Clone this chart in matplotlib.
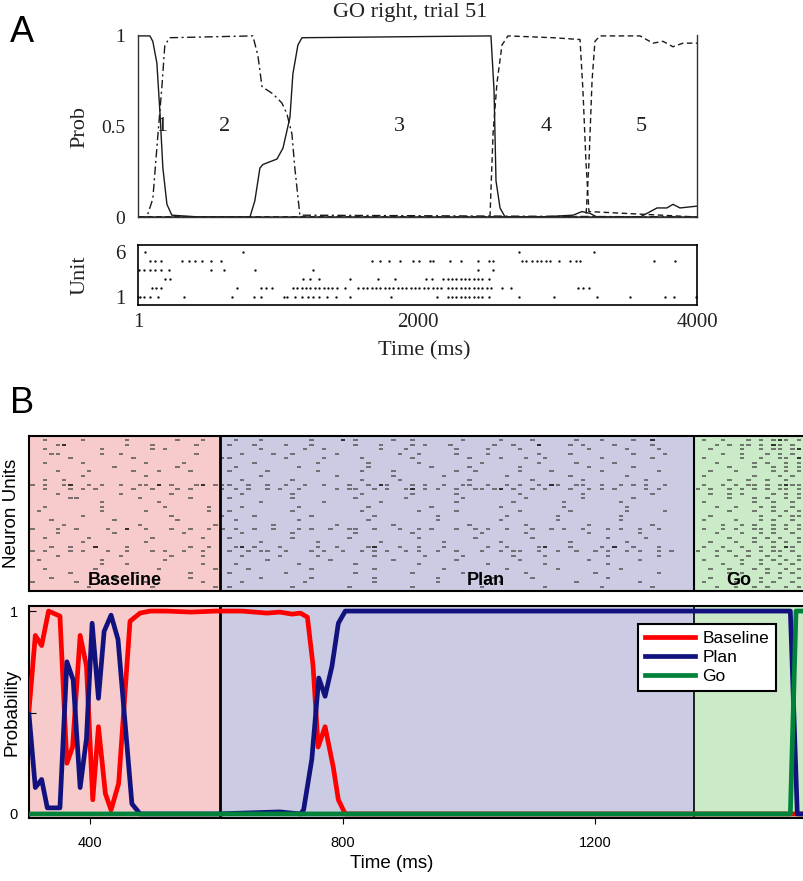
import matplotlib
matplotlib.use('Agg')
import matplotlib.pyplot as plt

W, H = 804, 881
SERIF = ['Liberation Serif', 'DejaVu Serif']
SANS = ['Liberation Sans', 'DejaVu Sans']

# ---------------- Panel A data ----------------
a_title = "GO right, trial 51"
a_state_labels = ['1', '2', '3', '4', '5']
a_state_label_t = [170, 620, 1870, 2920, 3600]

s1_t = [1, 86, 107, 136, 157, 179, 208, 243, 444, 4000]
s1_p = [1, 1, 0.97, 0.85, 0.59, 0.27, 0.07, 0.01, 0, 0]

s2_t = [1, 64, 107, 143, 172, 193, 229, 823, 859, 888, 966, 1030, 1066, 1102, 1123, 1159, 4000]
s2_p = [0, 0, 0.1, 0.45, 0.72, 0.95, 0.99, 1, 0.89, 0.72, 0.68, 0.63, 0.57, 0.46, 0.27, 0.01, 0]

s3_t = [1, 802, 837, 873, 895, 995, 1038, 1088, 1109, 1145, 1174, 2526, 2548, 2562, 2591, 2627,
        2877, 3113, 3177, 3234, 3285, 3592, 3642, 3714, 3785, 3828, 3878, 4000]
s3_p = [0, 0, 0.09, 0.27, 0.29, 0.32, 0.38, 0.55, 0.79, 0.95, 0.99, 1, 0.7, 0.2, 0.05, 0,
        0, 0.01, 0.03, 0.02, 0, 0, 0.02, 0.05, 0.05, 0.07, 0.05, 0.06]

s4_t = [1, 2519, 2541, 2569, 2605, 2648, 2970, 3163, 3184, 3206, 3227, 4000]
s4_p = [0, 0, 0.46, 0.74, 0.95, 1.0, 0.99, 0.98, 0.7, 0.3, 0.03, 0]

s5_t = [1, 3206, 3227, 3249, 3270, 3306, 3592, 3685, 3757, 3828, 3900, 4000]
s5_p = [0, 0, 0.3, 0.75, 0.97, 1.0, 1.0, 0.96, 0.97, 0.94, 0.96, 0.96]

unit6 = [53, 753, 2730, 3265]
unit5 = [84, 121, 162, 318, 364, 411, 458, 520, 598, 1672, 1734, 1796, 1874, 1967, 2014, 2092, 2108,
         2232, 2310, 2434, 2512, 2543, 2746, 2777, 2823, 2855, 2886, 2917, 2948, 3010, 3088, 3135,
         3166, 3695, 3845]
unit4 = [6, 44, 84, 121, 168, 224, 520, 613, 837, 1251, 2434, 2543]
unit3 = [193, 233, 1183, 1230, 1298, 1516, 1718, 1843, 2061, 2101, 2185, 2216, 2247, 2279, 2310,
         2341, 2372, 2403, 2434, 2465, 2512]
unit2 = [100, 131, 162, 707, 878, 918, 962, 1111, 1142, 1173, 1204, 1235, 1267, 1298, 1329, 1360,
         1391, 1423, 1485, 1578, 1609, 1640, 1672, 1703, 1734, 1765, 1796, 1827, 1858, 1889, 1921,
         1952, 1983, 2014, 2045, 2076, 2108, 2139, 2170, 2216, 2247, 2279, 2310, 2341, 2372, 2403,
         2434, 2465, 2497, 2528, 2606, 2668, 3150, 3182, 3228]
unit1 = [1, 16, 44, 84, 146, 333, 676, 831, 878, 1049, 1065, 1127, 1174, 1220, 1251, 1298, 1354,
         1416, 1516, 1812, 2139, 2216, 2247, 2279, 2310, 2341, 2372, 2403, 2434, 2465, 2512, 2724,
         2979, 3284, 3524, 3773, 3835, 3991]
a_units = [unit1, unit2, unit3, unit4, unit5, unit6]

# ---------------- Panel B data ----------------
phase_names = ['Baseline', 'Plan', 'Go']
phase_bounds = [303, 605, 1357, 1545]
phase_colors = ['#F7CACB', '#CBCBE3', '#CBEAC7']
phase_label_t = [454, 1027, 1428]

base_t = [303, 313, 323, 334, 352, 363, 372, 384, 394, 404, 413, 424, 433, 445, 463, 479, 495, 520,
          560, 600, 640, 680, 700, 720, 733, 744, 753, 761, 772, 785, 793, 804, 1545]
base_p = [0.51, 0.88, 0.83, 1.0, 0.975, 0.25, 0.33, 0.88, 0.73, 0.07, 0.43, 0.1, 0.02, 0.15, 0.95,
          0.99, 1.0, 1.0, 0.995, 1.0, 1.0, 0.99, 0.995, 0.985, 0.99, 0.97, 0.73, 0.33, 0.43, 0.23,
          0.07, 0, 0]
plan_t = [303, 313, 323, 332, 352, 363, 373, 384, 394, 403, 413, 422, 433, 444, 466, 479, 520, 600,
          700, 733, 738, 751, 762, 772, 783, 793, 804, 1509, 1520, 1545]
plan_p = [0.49, 0.13, 0.17, 0.03, 0.03, 0.75, 0.66, 0.13, 0.37, 0.94, 0.57, 0.9, 0.98, 0.86, 0.05,
          0.0, 0.0, 0.0, 0.01, 0.0, 0.02, 0.27, 0.67, 0.58, 0.73, 0.94, 1.0, 1.0, 0.0, 0.0]
go_t = [303, 1509, 1518, 1545]
go_p = [0, 0, 1, 1]
line_colors = ['#FF0000', '#12127F', '#00823A']

# raster rows: segments for Baseline | Plan | Go, one char = 10 ms, '-' grey spike, '#' dark spike
raster_rows = [
    "..-.....-......-.......-...-...|..-...-.......-....#.-.....-..-.......-.....-....-......-...-....-..#....|.-..-...-.-.-#-.--",
    "....-#.........-...-......-....|.-...-....-...-......-...-....-.-...-......-..-...#....-.-....-.....-....|...-.-.--.-.#-.-.-",
    "..-........-.......-.-.........|......-......-..-........-...-.......-....-....-..........-.....-....-...|..-....-..-.--.-#-",
    "...--......-..-...........-....|...-....-..-......-.........-..-.....-....-.......-....-.........-....-..|....-..-...-.-.-.-",
    "......-.........-.............-|.-........-.....-.....-.......-........-....-...-..-........-.......-....|.-.....-..-..--.#-",
    "..-.....-.........-.....-......|.....-.........-.......-.......-.........-........-.....-.....-.........|...-.....-.-..-.-.",
    ".............-.........-.......|..-.........-..........-.........-.....-.......-..........-......-.....|.....-...-..-.-.--",
    "....-....-......-...-....-.....|.-.....-.......-......-....-.........-..-......-....-.......-........-..|..-...-.....-.-.-.",
    "........-.........-............|......-...........-........-.......-.........-.........-........-......|.-.......-...-.-.-",
    "..-..-.........................|...-.......-..........-.....-..........-.........-.......-.........-...|.....-..-..-..-..-",
    "-.-..-#..-.-..-..--.#.-...-#.--|.-..-..-..-..-..-...-..-.#-...-.-..-..--..-..-.-..-.#-..--..-..-.-.-..-.|.-..-.-.--.-.-#--.",
    "..-...-.-.-.....-..-...-.-....-|..-.-..-.-..-.....-.--..-.-..-#.-.-..-..--.-#.-..-.-...-..-.-.-....-.-..|-.-..-.-.-.-.--.--",
    "....-.........-.......-........|...-.......-..........-.......-......-.........-.........-..........-...|..-..-.-....-.-.--",
    "......--.........-.......-.....|.-.........-.........-.......-........-.........-........-.......-.....|.....-...-.-..-.-.",
    "...........-........-..........|......-.........-........-...........-........-.......-........-.......|.-.......-..-..-.-",
    "..-........-.........-......-..|...-........-..........-.........-..........-.........-.........-......|...-..-...-.-..-.-",
    ".-.........-......-.........-..|.-.........-..........-........-.....-.........-.......-........-.....-|.....-...-..-.-.-.",
    "........-.............-.......-|.....-........-.........-.........-..........-.......-.........-.......|..-.......-..-.--.",
    "...-.........-.........-.......|..-.........-..........-..........-.........-........-.........-.......|.-....-...-.-..-.-",
    ".....-...........-...........-.|........-.........-........-...........-........-.........-.........-.|....-..-.-..-.-.-.",
    "-...-..-....-..#..-...-..-..-..|-.-..-..-...-.-..-..--..-...-..-.-...-..-.-..-...-..-.-..-...-.-..-..-.|.-..-.-..--.-.-.--",
    "....-........-..........-......|...-.......-.........-........-..........-......-.........-.......-....|...-...-..-.-..-.-",
    "..-......-.........-.......-...|.-.........-........-..........-........-........-...........-.....-...|.....-...-.-.-..-.",
    "........-.........-............|......-........-.........-.........-........-..........-........-......|..-...-..-..-.-.-.",
    "...-..-...#....-.........-..-..|..-#.-...-.....-..-....-#...-..-...-......-..-....-#...-....-.#..-...-..|.-..-..-..-.-.#-.-",
    "-.-...-.-...-..-...-.-..-..-...|.-..-.--..-...-.-..-..-.-.-..-.-..-..-...-..-.--..-..-..-..-.-..-.-..-.-|-..-.-..-.-.--.-.-",
    "....-.........-.......-....-...|...-.....-.....-........-.......-.....-.......-....-.........-.......-..|...-..-.-..-.-..-.",
    ".-.........-.........-.........|.......-.........-.........-.........-.........-..........-.......-....|.-.....-..-.-.-.-.",
    "...........-...-...........-...|..-.........-........-.........-..........-........-.........-.........|....-..-..-..-.-.-",
    "..-.......-.........-........-.|....-.........-.........-..........-.........-.......-.........-.......|..-..-...-.-..-.-.",
    "......-.........-........-.....|.-........-..........-........-.......-.........-..........-.........-.|.....-.-...-.-.-.-",
    "...-.........-...........-.....|......-.......-.........-.........-........-.....-...........-.........|..-.......-..-..-.",
    "-......-..........-........-...|...-.........-..........-.........-.........-...........-.........-....|.-....-...-.-..-.-",
    ".........-.........-.........-.|.-.........-........-.........-..........-.........-........-.......-.|...-..-..-.-..-.-.",
]
raster_seg_start = [305, 607, 1359]
raster_bin = 10
b_xticks = [400, 800, 1200]

# ---------------- Figure ----------------
fig = plt.figure(figsize=(W / 100, H / 100), dpi=100)


def ax_px(l, t, r, b):
    return fig.add_axes([l / W, 1 - b / H, (r - l) / W, (b - t) / H])


# Panel A top
axA = ax_px(138, 35, 697, 217)
lc = '#1a1a1a'
axA.plot(s1_t, s1_p, color=lc, lw=1.0, ls='-')
axA.plot(s2_t, s2_p, color=lc, lw=1.0, ls=(0, (6, 2.5, 1.5, 2.5)))
axA.plot(s3_t, s3_p, color=lc, lw=1.0, ls='-')
axA.plot(s4_t, s4_p, color=lc, lw=1.0, ls=(0, (4, 2.5)))
axA.plot(s5_t, s5_p, color=lc, lw=1.0, ls=(0, (4, 2.5)))
axA.set_xlim(1, 4000)
axA.set_ylim(0, 1.005)
axA.set_xticks([])
axA.set_yticks([0, 0.5, 1])
axA.set_yticklabels(['0', '0.5', '1'], fontfamily=SERIF, fontsize=14, color='#222222')
axA.tick_params(axis='y', length=0, pad=9)
axA.spines['top'].set_visible(False)
for s in ['left', 'bottom', 'right']:
    axA.spines[s].set_linewidth(1.0)
    axA.spines[s].set_color('#333333')
for lab, t in zip(a_state_labels, a_state_label_t):
    axA.text(t, 0.5, lab, ha='center', va='center', fontfamily=SERIF, fontsize=16, color='#222222')
fig.text(410 / W, 1 - 13 / H, a_title, ha='center', va='center', fontfamily=SERIF, fontsize=16,
         color='#222222')
fig.text(80 / W, 1 - 127 / H, 'Prob', ha='center', va='center', rotation=90, fontfamily=SERIF,
         fontsize=16, color='#222222')

# Panel A raster
axR = ax_px(138, 245, 697, 305)
for i, u in enumerate(a_units):
    axR.plot(u, [i + 1] * len(u), ls='none', marker='o', ms=1.7, color='#111111', mew=0)
axR.set_xlim(1, 4000)
axR.set_ylim(0.11, 6.78)
axR.set_yticks([1, 6])
axR.set_yticklabels(['1', '6'], fontfamily=SERIF, fontsize=15, color='#222222')
axR.set_xticks([1, 2000, 4000])
axR.set_xticklabels(['1', '2000', '4000'], fontfamily=SERIF, fontsize=15, color='#222222')
axR.tick_params(length=0)
axR.tick_params(axis='y', pad=9)
axR.tick_params(axis='x', pad=6)
for s in axR.spines.values():
    s.set_linewidth(1.2)
fig.text(80 / W, 1 - 275 / H, 'Unit', ha='center', va='center', rotation=90, fontfamily=SERIF,
         fontsize=16, color='#222222')
fig.text(424 / W, 1 - 351 / H, 'Time (ms)', ha='center', va='center', fontfamily=SERIF,
         fontsize=16, color='#222222')

# Panel labels
fig.text(22 / W, 1 - 33 / H, 'A', ha='center', va='center', fontfamily=SANS, fontsize=26)
fig.text(22 / W, 1 - 403 / H, 'B', ha='center', va='center', fontfamily=SANS, fontsize=26)

# Panel B raster
xl = (303, 303 + 781 / 0.6313)
axS = ax_px(29, 436, 810, 591)
for i in range(3):
    axS.axvspan(phase_bounds[i], phase_bounds[i + 1], color=phase_colors[i], lw=0, zorder=0)
nrows = len(raster_rows)
for r, row in enumerate(raster_rows):
    y = nrows - r
    for seg, start in zip(row.split('|'), raster_seg_start):
        for k, ch in enumerate(seg):
            if ch in '-#':
                t0 = start + k * raster_bin
                axS.hlines(y, t0, t0 + 7, color='black' if ch == '#' else '#555555', lw=1.1,
                           zorder=2)
axS.axvline(phase_bounds[1], color='black', lw=2, zorder=3)
axS.axvline(phase_bounds[2], color='black', lw=1.5, zorder=3)
for name, t in zip(phase_names, phase_label_t):
    axS.text(t, 2.3, name, ha='center', va='center', fontfamily=SANS, fontsize=13,
             fontweight='bold', zorder=4)
axS.set_xlim(*xl)
axS.set_ylim(0, nrows + 1)
axS.set_xticks([])
axS.set_yticks([])
for s in axS.spines.values():
    s.set_linewidth(1.5)
fig.text(12 / W, 1 - 513 / H, 'Neuron Units', ha='center', va='center', rotation=90,
         fontfamily=SANS, fontsize=13.5)

# Panel B probability
axP = ax_px(29, 606, 810, 818)
for i in range(3):
    axP.axvspan(phase_bounds[i], phase_bounds[i + 1], color=phase_colors[i], lw=0, zorder=0)
axP.axvline(phase_bounds[1], color='black', lw=2, zorder=1)
axP.axvline(phase_bounds[2], color='black', lw=1.2, zorder=1)
axP.plot(base_t, base_p, color=line_colors[0], lw=3.4, label=phase_names[0], zorder=3)
axP.plot(plan_t, plan_p, color=line_colors[1], lw=3.4, label=phase_names[1], zorder=4)
axP.plot(go_t, go_p, color=line_colors[2], lw=3.4, label=phase_names[2], zorder=5)
axP.set_xlim(*xl)
axP.set_ylim(-0.02, 1.025)
axP.set_yticks([0, 0.5, 1])
axP.set_yticklabels(['0', '', '1'], fontfamily=SANS, fontsize=10.5)
axP.tick_params(axis='y', direction='in', length=5, pad=8)
axP.set_xticks(b_xticks)
axP.set_xticklabels([str(v) for v in b_xticks], fontfamily=SANS, fontsize=10.5)
axP.tick_params(axis='x', direction='out', length=4, pad=9)
for s in axP.spines.values():
    s.set_linewidth(1.5)
leg = axP.legend(loc='upper right', bbox_to_anchor=(776 / W, 1 - 624 / H),
                 bbox_transform=fig.transFigure, prop={'family': SANS, 'size': 12.5},
                 fancybox=False, framealpha=1, edgecolor='black', handlelength=2.9,
                 borderpad=0.4, labelspacing=0.22, handletextpad=0.4, borderaxespad=0)
leg.get_frame().set_linewidth(1.5)
fig.text(12 / W, 1 - 712 / H, 'Probability', ha='center', va='center', rotation=90,
         fontfamily=SANS, fontsize=13.5)
fig.text(392 / W, 1 - 864 / H, 'Time (ms)', ha='center', va='center', fontfamily=SANS,
         fontsize=13.5)

fig.savefig('out.png', dpi=100)
